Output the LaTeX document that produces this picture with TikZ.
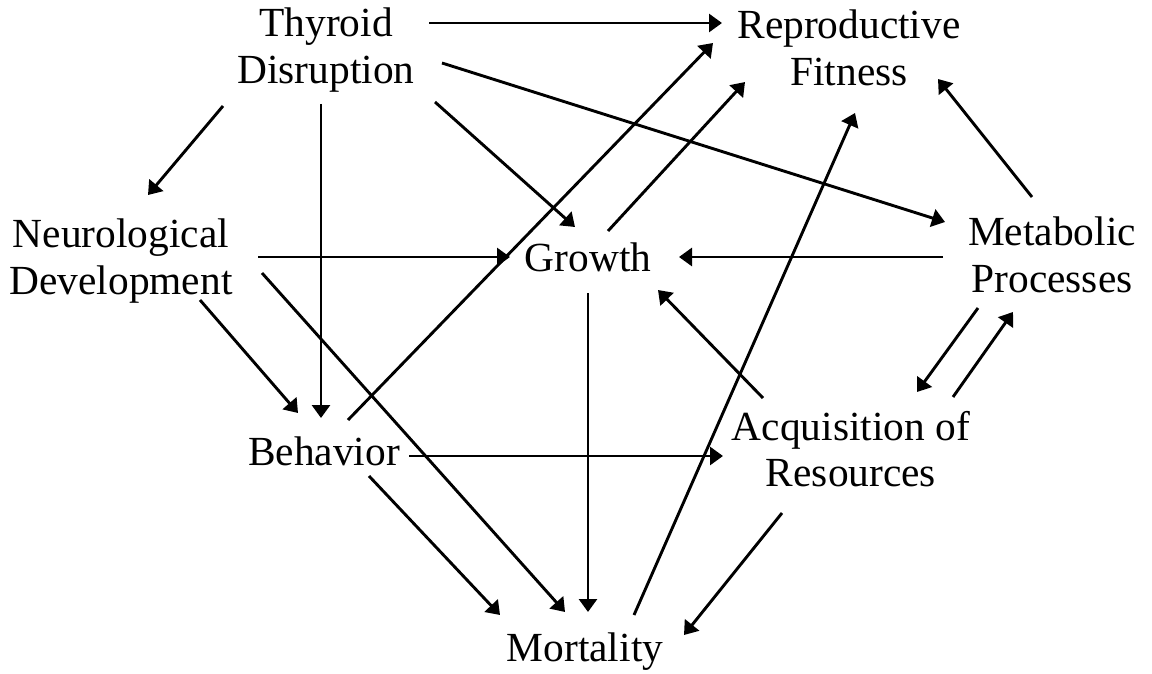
\documentclass[tikz,border=0pt]{standalone}
\usepackage{fontspec}
\setmainfont{Liberation Serif}
\usetikzlibrary{arrows.meta}

\begin{document}
\begin{tikzpicture}[
      x=0.5pt, y=-0.5pt,
      lbl/.style={align=center, inner sep=0pt, font=\fontsize{20.7}{23.3}\selectfont},
      arr/.style={-{Triangle[length=6.5pt, width=9pt]}, line width=1.45pt}
    ]
    \useasboundingbox (0,0) rectangle (1152,674);
    \node[lbl] (thy) at (326,50)  {Thyroid \\ Disruption};
    \node[lbl] (rep) at (849,48)  {Reproductive \\ Fitness};
    \node[lbl] (neu) at (121,261) {Neurological \\ Development};
    \node[lbl] (gro) at (588,257) {Growth};
    \node[lbl] (met) at (1052,255) {Metabolic \\ Processes};
    \node[lbl] (beh) at (324,451) {Behavior};
    \node[lbl] (acq) at (851,449) {Acquisition of \\ Resources};
    \node[lbl] (mor) at (585,652) {Mortality};

    % thyroid disruption
    \draw[arr] ([shift={(103,-27)}]thy.center) -- ([shift={(-127,-25)}]rep.center);
    \draw[arr] ([shift={(-103,56)}]thy.center) -- ([shift={(27,-66)}]neu.center);
    \draw[arr] ([shift={(-5,54)}]thy.center) -- ([shift={(-3,-33)}]beh.center);
    \draw[arr] ([shift={(109,52)}]thy.center) -- ([shift={(-13,-30)}]gro.center);
    \draw[arr] ([shift={(116,13)}]thy.center) -- ([shift={(-107,-33)}]met.center);

    % neurological development
    \draw[arr] ([shift={(137,-4)}]neu.center) -- ([shift={(-78,0)}]gro.center);
    \draw[arr] ([shift={(79,39)}]neu.center) -- ([shift={(-26,-38)}]beh.center);
    \draw[arr] ([shift={(141,12)}]neu.center) -- ([shift={(-20,-40)}]mor.center);

    % behavior
    \draw[arr] ([shift={(24,-31)}]beh.center) -- ([shift={(-136,-5)}]rep.center);
    \draw[arr] ([shift={(85,5)}]beh.center) -- ([shift={(-128,7)}]acq.center);
    \draw[arr] ([shift={(45,25)}]beh.center) -- ([shift={(-85,-37)}]mor.center);

    % growth
    \draw[arr] ([shift={(20,-26)}]gro.center) -- ([shift={(-104,34)}]rep.center);
    \draw[arr] ([shift={(0,36)}]gro.center) -- ([shift={(3,-40)}]mor.center);

    % metabolic processes
    \draw[arr] ([shift={(-109,2)}]met.center) -- ([shift={(91,0)}]gro.center);
    \draw[arr] ([shift={(-20,-58)}]met.center) -- ([shift={(89,31)}]rep.center);
    \draw[arr] ([shift={(-74,53)}]met.center) -- ([shift={(66,-57)}]acq.center);

    % acquisition of resources
    \draw[arr] ([shift={(102,-52)}]acq.center) -- ([shift={(-39,57)}]met.center);
    \draw[arr] ([shift={(-88,-51)}]acq.center) -- ([shift={(70,33)}]gro.center);
    \draw[arr] ([shift={(-69,64)}]acq.center) -- ([shift={(99,-17)}]mor.center);

    % mortality
    \draw[arr] ([shift={(49,-37)}]mor.center) -- ([shift={(6,65)}]rep.center);
\end{tikzpicture}
\end{document}
